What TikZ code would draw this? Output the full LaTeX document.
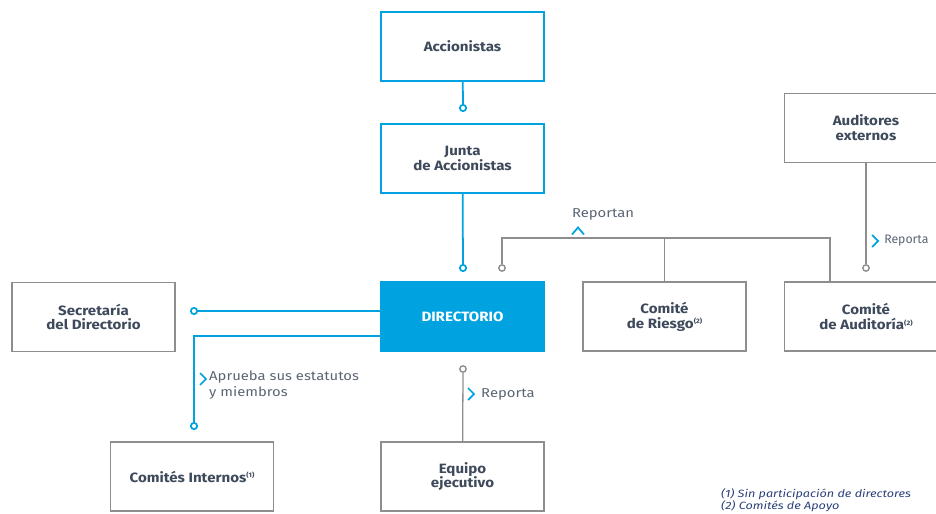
\documentclass[tikz,border=0pt]{standalone}
\usepackage{fontspec}
\setmainfont{Fira Sans}
\usetikzlibrary{positioning, calc, shadows}
\definecolor{myblue}{HTML}{00A3E0}
\definecolor{mygray}{HTML}{8E8E8E}
\definecolor{mytext}{HTML}{3E4A5B}
\definecolor{mynote}{HTML}{2B3F7A}
\newcommand{\nota}[1]{\raisebox{0.6ex}{\fontsize{5.5}{6}\selectfont(#1)}}

\begin{document}
\begin{tikzpicture}[x=0.03cm, y=-0.03cm,
  box/.style={draw=mygray, line width=1.1pt, fill=white, minimum width=4.89cm,
    minimum height=2.07cm, align=center, text=mytext,
    font=\bfseries\fontsize{11.5}{12.75}\selectfont\addfontfeature{FakeStretch=1.12},
    drop shadow={opacity=0.15, shadow xshift=0.8pt, shadow yshift=-0.8pt}},
  bluebox/.style={box, draw=myblue, line width=1.5pt},
  dirbox/.style={box, draw=myblue, fill=myblue, text=white},
  bline/.style={draw=myblue, line width=1.5pt},
  gline/.style={draw=mygray, line width=1.1pt},
  bdot/.style={circle, draw=myblue, fill=white, line width=1.5pt, inner sep=0pt, minimum size=0.19cm},
  gdot/.style={bdot, draw=mygray, line width=1.2pt},
  lbl/.style={text=mytext!85, font=\fontsize{11}{13.5}\selectfont\addfontfeature{FakeStretch=1.15}},
  notas/.style={text=mynote, font=\itshape\fontsize{9}{9.4}\selectfont\addfontfeature{FakeStretch=1.2}},
  chevR/.pic={\draw[myblue, line width=1.5pt] (-3,-6) -- (3,0) -- (-3,6);},
  chevU/.pic={\draw[myblue, line width=1.5pt] (-6,3.5) -- (0,-3.5) -- (6,3.5);}]
  \useasboundingbox (0,0) rectangle (936,514);

  % boxes
  \node[bluebox] (acc)      at (462.5,46.5)  {Accionistas};
  \node[bluebox] (junta)    at (462.5,158.5) {Junta\\de Accionistas};
  \node[dirbox]  (dir)      at (462.5,316.5) {DIRECTORIO};
  \node[box]     (secr)     at (93.5,317)    {Secretaría\\del Directorio};
  \node[box]     (riesgo)   at (664.5,316.5) {Comité\\de Riesgo\nota{2}};
  \node[box]     (audi)     at (866,316.5)   {Comité\\de Auditoría\nota{2}};
  \node[box]     (audext)   at (866,128)     {Auditores\\externos};
  \node[box]     (internos) at (192,476.5)   {Comités Internos\nota{1}};
  \node[box]     (equipo)   at (462.5,476.5) {Equipo\\ejecutivo};

  % connector ends
  \node[bdot] (d1) at (463,108) {};
  \node[bdot] (d2) at (463,268) {};
  \node[gdot] (d3) at (502,268) {};
  \node[gdot] (d4) at (866,268) {};
  \node[bdot] (d5) at (194,311) {};
  \node[bdot] (d6) at (194,426) {};
  \node[gdot] (d7) at (463,369) {};
  \coordinate (bar)  at (502,238);
  \coordinate (barR) at (830,238);

  % connectors
  \draw[bline] (acc) -- (d1);
  \draw[bline] (junta) -- (d2);
  \draw[bline] (dir.west |- d5) -- (d5);
  \draw[bline] ($(dir.north west)+(0,55)$) -| (d6);
  \draw[gline] (d3) |- (barR) -- (barR |- audi.north);
  \draw[gline] (riesgo.north) -- (riesgo.north |- bar);
  \draw[gline] (audext) -- (d4);
  \draw[gline] (d7) -- (equipo);

  % labels
  \node[lbl] (lreportan) at (603,214) {Reportan};
  \pic at (578,231) {chevU};
  \pic at (203,379) {chevR};
  \node[lbl, anchor=north west, align=left, inner sep=0pt] (laprueba) at (209,371) {Aprueba sus estatutos\\y miembros};
  \pic at (471,394) {chevR};
  \node[lbl, anchor=west, inner sep=0pt] (lreporta) at (481,394) {Reporta};
  \pic at (875,241) {chevR};
  \node[lbl, anchor=west, inner sep=0pt, font=\fontsize{10.5}{13.5}\selectfont] (lreporta2) at (884,241) {Reporta};
  \node[notas, anchor=south west, align=left, inner sep=0pt] (notas) at (721,512)
    {(1) Sin participación de directores\\(2) Comités de Apoyo};
\end{tikzpicture}
\end{document}
